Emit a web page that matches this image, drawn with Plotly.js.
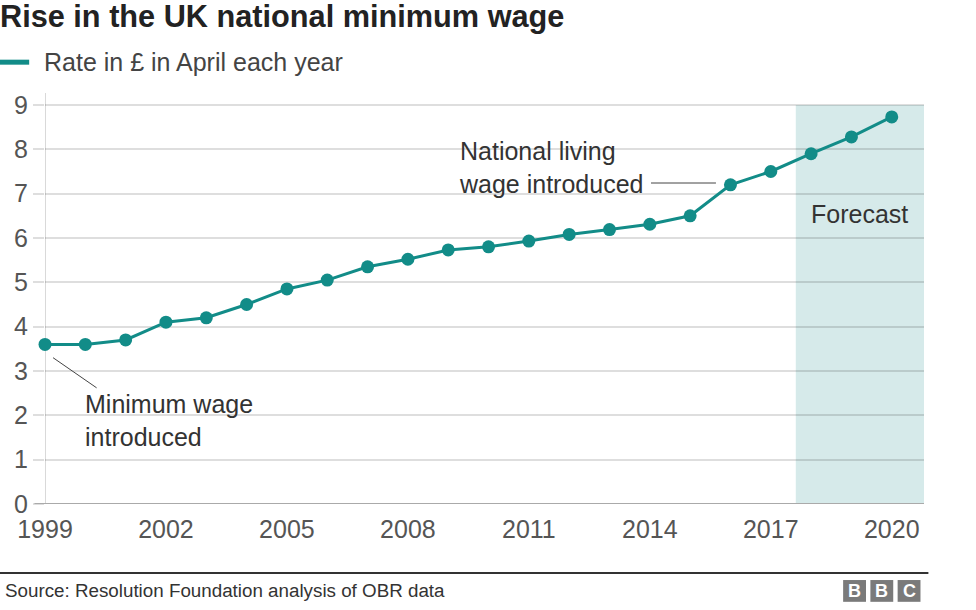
<!DOCTYPE html>
<html>
<head>
<meta charset="utf-8">
<script src="https://cdn.plot.ly/plotly-3.0.1.min.js"></script>
<style>html,body{margin:0;padding:0;background:#fff;}#chart{width:976px;height:610px;}</style>
</head>
<body>
<div id="chart"></div>
<script>
const years = [1999,2000,2001,2002,2003,2004,2005,2006,2007,2008,2009,2010,2011,2012,2013,2014,2015,2016,2017,2018,2019,2020];
const rates = [3.60,3.60,3.70,4.10,4.20,4.50,4.85,5.05,5.35,5.52,5.73,5.80,5.93,6.08,6.19,6.31,6.50,7.20,7.50,7.90,8.28,8.73];
const xTicks = [1999,2002,2005,2008,2011,2014,2017,2020];
const yTicks = [0,1,2,3,4,5,6,7,8,9];
const forecastStart = 2017.62;
const forecastEnd = 2020.8;
const seriesName = "Rate in £ in April each year";

const teal = "#128c88";
const font = "Liberation Sans, Arial, sans-serif";

const trace = {
  x: years, y: rates, type: "scatter", mode: "lines+markers",
  line: {color: teal, width: 3},
  marker: {color: teal, size: 13},
  cliponaxis: false, showlegend: false, hoverinfo: "x+y"
};

const layout = {
  width: 976, height: 610,
  margin: {l: 45, r: 52, t: 93, b: 106},
  paper_bgcolor: "#fff", plot_bgcolor: "rgba(0,0,0,0)",
  font: {family: font, color: "#333"},
  showlegend: false,
  xaxis: {
    range: [1999, forecastEnd], tickvals: xTicks, ticktext: xTicks.map(String),
    showgrid: false, zeroline: false, showline: false, ticks: "",
    ticklabelstandoff: 8,
    tickfont: {size: 25, color: "#555"}, fixedrange: true
  },
  yaxis: {
    range: [0, 9.27], tickvals: yTicks, ticktext: yTicks.map(String),
    showgrid: true, gridcolor: "rgba(0,0,0,0.13)", gridwidth: 2,
    zeroline: false, showline: false,
    ticks: "outside", ticklen: 11, tickcolor: "rgba(0,0,0,0.13)", tickwidth: 2,
    tickfont: {size: 25, color: "#555"}, fixedrange: true
  },
  shapes: [
    {type: "rect", xref: "x", yref: "y", x0: forecastStart, x1: forecastEnd, y0: 0, y1: 9,
     fillcolor: "#d6eaea", line: {width: 0}, layer: "below"},
    {type: "line", xref: "x", yref: "paper", x0: 1999, x1: 1999, y0: 0, y1: 1,
     line: {color: "#d9d9d9", width: 2}, layer: "below"},
    {type: "line", xref: "paper", yref: "y", x0: -0.012, x1: 1, y0: 0, y1: 0,
     line: {color: "#aaa", width: 2}},
    {type: "line", xref: "x", yref: "y", x0: 1999.2, y0: 3.30, x1: 2000.28, y1: 2.62,
     line: {color: "#444", width: 1}},
    {type: "line", xref: "x", yref: "y", x0: 2014.03, y0: 7.24, x1: 2015.64, y1: 7.24,
     line: {color: "#444", width: 1}},
    // legend swatch
    {type: "line", xref: "paper", yref: "paper", x0: -0.052, x1: -0.018, y0: 1.075, y1: 1.075,
     line: {color: teal, width: 5}},
    // footer rule
    {type: "line", xref: "paper", yref: "paper", x0: -0.052, x1: 1.005, y0: -0.168, y1: -0.168,
     line: {color: "#333", width: 2}},
    // BBC blocks
    {type: "rect", xref: "paper", yref: "paper", x0: 0.908, x1: 0.934, y0: -0.238, y1: -0.185, fillcolor: "#7a7a7a", line: {width: 0}},
    {type: "rect", xref: "paper", yref: "paper", x0: 0.939, x1: 0.965, y0: -0.238, y1: -0.185, fillcolor: "#7a7a7a", line: {width: 0}},
    {type: "rect", xref: "paper", yref: "paper", x0: 0.970, x1: 0.996, y0: -0.238, y1: -0.185, fillcolor: "#7a7a7a", line: {width: 0}}
  ],
  annotations: [
    {xref: "paper", yref: "paper", x: -0.054, y: 1.185, xanchor: "left", yanchor: "middle",
     text: "<b>Rise in the UK national minimum wage</b>", showarrow: false,
     font: {size: 30.7, color: "#222", family: font}},
    {xref: "paper", yref: "paper", x: -0.003, y: 1.075, xanchor: "left", yanchor: "middle",
     text: seriesName, showarrow: false, font: {size: 25, color: "#444", family: font}},
    {xref: "x", yref: "y", x: 1999.95, y: 1.89, xanchor: "left", yanchor: "middle", align: "left",
     text: "Minimum wage<br>introduced", showarrow: false, font: {size: 25, color: "#333", family: font}},
    {xref: "x", yref: "y", x: 2009.23, y: 7.59, xanchor: "left", yanchor: "middle", align: "left",
     text: "National living<br>wage introduced", showarrow: false, font: {size: 25, color: "#333", family: font}},
    {xref: "x", yref: "y", x: 2019.2, y: 6.54, xanchor: "center", yanchor: "middle",
     text: "Forecast", showarrow: false, font: {size: 25, color: "#333", family: font}},
    {xref: "paper", yref: "paper", x: -0.048, y: -0.211, xanchor: "left", yanchor: "middle",
     text: "Source: Resolution Foundation analysis of OBR data", showarrow: false,
     font: {size: 18.8, color: "#333", family: font}},
    {xref: "paper", yref: "paper", x: 0.921, y: -0.211, xanchor: "center", yanchor: "middle",
     text: "<b>B</b>", showarrow: false, font: {size: 18, color: "#fff", family: font}},
    {xref: "paper", yref: "paper", x: 0.952, y: -0.211, xanchor: "center", yanchor: "middle",
     text: "<b>B</b>", showarrow: false, font: {size: 18, color: "#fff", family: font}},
    {xref: "paper", yref: "paper", x: 0.983, y: -0.211, xanchor: "center", yanchor: "middle",
     text: "<b>C</b>", showarrow: false, font: {size: 18, color: "#fff", family: font}}
  ]
};

Plotly.newPlot("chart", [trace], layout, {displayModeBar: false, staticPlot: true});
</script>
</body>
</html>
